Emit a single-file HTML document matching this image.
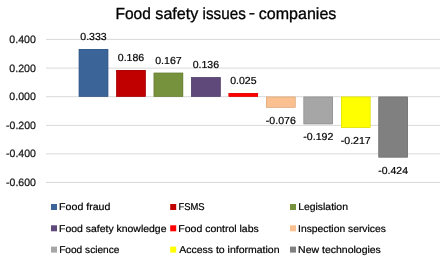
<!DOCTYPE html>
<html><head><meta charset="utf-8"><style>
html,body{margin:0;padding:0;background:#fff;}
svg{display:block;will-change:transform;text-rendering:geometricPrecision;font-family:"Liberation Sans",sans-serif;}
</style></head><body>
<svg width="446" height="260" viewBox="0 0 446 260">
<rect width="446" height="260" fill="#fff"/>
<rect x="46" y="38.90" width="394" height="1" fill="#d9d9d9"/>
<rect x="46" y="67.60" width="394" height="1" fill="#d9d9d9"/>
<rect x="46" y="96.20" width="394" height="1" fill="#d9d9d9"/>
<rect x="46" y="124.85" width="394" height="1" fill="#d9d9d9"/>
<rect x="46" y="153.35" width="394" height="1" fill="#d9d9d9"/>
<rect x="46" y="181.95" width="394" height="1" fill="#d9d9d9"/>
<rect x="78.80" y="49.00" width="29.4" height="47.70" fill="#3B6499"/>
<rect x="79.10" y="49.30" width="28.80" height="47.10" fill="none" stroke="#325582" stroke-width="0.6"/>
<rect x="116.26" y="70.06" width="29.4" height="26.64" fill="#C00000"/>
<rect x="116.56" y="70.36" width="28.80" height="26.04" fill="none" stroke="#a30000" stroke-width="0.6"/>
<rect x="153.72" y="72.78" width="29.4" height="23.92" fill="#76923C"/>
<rect x="154.02" y="73.08" width="28.80" height="23.32" fill="none" stroke="#647c33" stroke-width="0.6"/>
<rect x="191.18" y="77.22" width="29.4" height="19.48" fill="#5F497A"/>
<rect x="191.48" y="77.52" width="28.80" height="18.88" fill="none" stroke="#503e67" stroke-width="0.6"/>
<rect x="228.64" y="93.12" width="29.4" height="3.58" fill="#FF0000"/>
<rect x="228.94" y="93.42" width="28.80" height="2.98" fill="none" stroke="#d80000" stroke-width="0.6"/>
<rect x="266.10" y="96.70" width="29.4" height="10.89" fill="#FAC090"/>
<rect x="266.40" y="97.00" width="28.80" height="10.29" fill="none" stroke="#d4a37a" stroke-width="0.6"/>
<rect x="303.56" y="96.70" width="29.4" height="27.50" fill="#A6A6A6"/>
<rect x="303.86" y="97.00" width="28.80" height="26.90" fill="none" stroke="#8d8d8d" stroke-width="0.6"/>
<rect x="341.02" y="96.70" width="29.4" height="31.09" fill="#FFFF00"/>
<rect x="341.32" y="97.00" width="28.80" height="30.49" fill="none" stroke="#d8d800" stroke-width="0.6"/>
<rect x="378.48" y="96.70" width="29.4" height="60.74" fill="#808080"/>
<rect x="378.78" y="97.00" width="28.80" height="60.14" fill="none" stroke="#6c6c6c" stroke-width="0.6"/>
<text x="80.34" y="40.00" font-size="10.20" textLength="26.37" lengthAdjust="spacingAndGlyphs" fill="#000" stroke="#000" stroke-width="0.2">0.333</text>
<text x="117.80" y="61.06" font-size="10.20" textLength="26.37" lengthAdjust="spacingAndGlyphs" fill="#000" stroke="#000" stroke-width="0.2">0.186</text>
<text x="155.26" y="63.78" font-size="10.20" textLength="26.44" lengthAdjust="spacingAndGlyphs" fill="#000" stroke="#000" stroke-width="0.2">0.167</text>
<text x="192.72" y="68.22" font-size="10.20" textLength="26.37" lengthAdjust="spacingAndGlyphs" fill="#000" stroke="#000" stroke-width="0.2">0.136</text>
<text x="230.18" y="84.12" font-size="10.20" textLength="26.35" lengthAdjust="spacingAndGlyphs" fill="#000" stroke="#000" stroke-width="0.2">0.025</text>
<text x="265.83" y="123.79" font-size="10.20" textLength="29.93" lengthAdjust="spacingAndGlyphs" fill="#000" stroke="#000" stroke-width="0.2">-0.076</text>
<text x="303.29" y="140.40" font-size="10.20" textLength="30.00" lengthAdjust="spacingAndGlyphs" fill="#000" stroke="#000" stroke-width="0.2">-0.192</text>
<text x="340.75" y="143.99" font-size="10.20" textLength="30.00" lengthAdjust="spacingAndGlyphs" fill="#000" stroke="#000" stroke-width="0.2">-0.217</text>
<text x="378.21" y="173.64" font-size="10.20" textLength="29.77" lengthAdjust="spacingAndGlyphs" fill="#000" stroke="#000" stroke-width="0.2">-0.424</text>
<text x="9.39" y="42.80" font-size="10.60" textLength="26.53" lengthAdjust="spacingAndGlyphs" fill="#1a1a1a" stroke="#1a1a1a" stroke-width="0.25">0.400</text>
<text x="9.39" y="71.50" font-size="10.60" textLength="26.53" lengthAdjust="spacingAndGlyphs" fill="#1a1a1a" stroke="#1a1a1a" stroke-width="0.25">0.200</text>
<text x="9.39" y="100.10" font-size="10.60" textLength="26.53" lengthAdjust="spacingAndGlyphs" fill="#1a1a1a" stroke="#1a1a1a" stroke-width="0.25">0.000</text>
<text x="6.03" y="128.75" font-size="10.60" textLength="29.88" lengthAdjust="spacingAndGlyphs" fill="#1a1a1a" stroke="#1a1a1a" stroke-width="0.25">-0.200</text>
<text x="6.03" y="157.25" font-size="10.60" textLength="29.88" lengthAdjust="spacingAndGlyphs" fill="#1a1a1a" stroke="#1a1a1a" stroke-width="0.25">-0.400</text>
<text x="6.03" y="185.85" font-size="10.60" textLength="29.88" lengthAdjust="spacingAndGlyphs" fill="#1a1a1a" stroke="#1a1a1a" stroke-width="0.25">-0.600</text>
<text x="115.53" y="18.80" font-size="16.10" textLength="35.37" lengthAdjust="spacingAndGlyphs" fill="#000" stroke="#000" stroke-width="0.3">Food</text>
<text x="155.35" y="18.80" font-size="16.10" textLength="42.98" lengthAdjust="spacingAndGlyphs" fill="#000" stroke="#000" stroke-width="0.3">safety</text>
<text x="202.58" y="18.80" font-size="16.10" textLength="43.17" lengthAdjust="spacingAndGlyphs" fill="#000" stroke="#000" stroke-width="0.3">issues</text>
<text x="248.86" y="18.20" font-size="16.10" textLength="6.27" lengthAdjust="spacingAndGlyphs" fill="#000" stroke="#000" stroke-width="0.3">-</text>
<text x="258.82" y="18.80" font-size="16.10" textLength="77.56" lengthAdjust="spacingAndGlyphs" fill="#000" stroke="#000" stroke-width="0.3">companies</text>
<rect x="51" y="204.00" width="6" height="6" fill="#3B6499"/>
<text x="59.13" y="210.20" font-size="9.90" textLength="51.25" lengthAdjust="spacingAndGlyphs" fill="#000" stroke="#000" stroke-width="0.2">Food fraud</text>
<rect x="170.2" y="204.00" width="6" height="6" fill="#C00000"/>
<text x="178.43" y="210.20" font-size="9.90" textLength="26.21" lengthAdjust="spacingAndGlyphs" fill="#000" stroke="#000" stroke-width="0.2">FSMS</text>
<rect x="290" y="204.00" width="6" height="6" fill="#76923C"/>
<text x="298.15" y="210.20" font-size="9.90" textLength="49.83" lengthAdjust="spacingAndGlyphs" fill="#000" stroke="#000" stroke-width="0.2">Legislation</text>
<rect x="51" y="225.30" width="6" height="6" fill="#5F497A"/>
<text x="59.14" y="231.50" font-size="9.90" textLength="107.32" lengthAdjust="spacingAndGlyphs" fill="#000" stroke="#000" stroke-width="0.2">Food safety knowledge</text>
<rect x="170.2" y="225.30" width="6" height="6" fill="#FF0000"/>
<text x="178.34" y="231.50" font-size="9.90" textLength="80.44" lengthAdjust="spacingAndGlyphs" fill="#000" stroke="#000" stroke-width="0.2">Food control labs</text>
<rect x="290" y="225.30" width="6" height="6" fill="#FAC090"/>
<text x="298.05" y="231.50" font-size="9.90" textLength="87.83" lengthAdjust="spacingAndGlyphs" fill="#000" stroke="#000" stroke-width="0.2">Inspection services</text>
<rect x="51" y="246.60" width="6" height="6" fill="#A6A6A6"/>
<text x="59.17" y="252.80" font-size="9.90" textLength="60.28" lengthAdjust="spacingAndGlyphs" fill="#000" stroke="#000" stroke-width="0.2">Food science</text>
<rect x="170.2" y="246.60" width="6" height="6" fill="#FFFF00"/>
<text x="179.18" y="252.80" font-size="9.90" textLength="100.30" lengthAdjust="spacingAndGlyphs" fill="#000" stroke="#000" stroke-width="0.2">Access to information</text>
<rect x="290" y="246.60" width="6" height="6" fill="#808080"/>
<text x="298.14" y="252.80" font-size="9.90" textLength="82.74" lengthAdjust="spacingAndGlyphs" fill="#000" stroke="#000" stroke-width="0.2">New technologies</text>
</svg>
</body></html>
